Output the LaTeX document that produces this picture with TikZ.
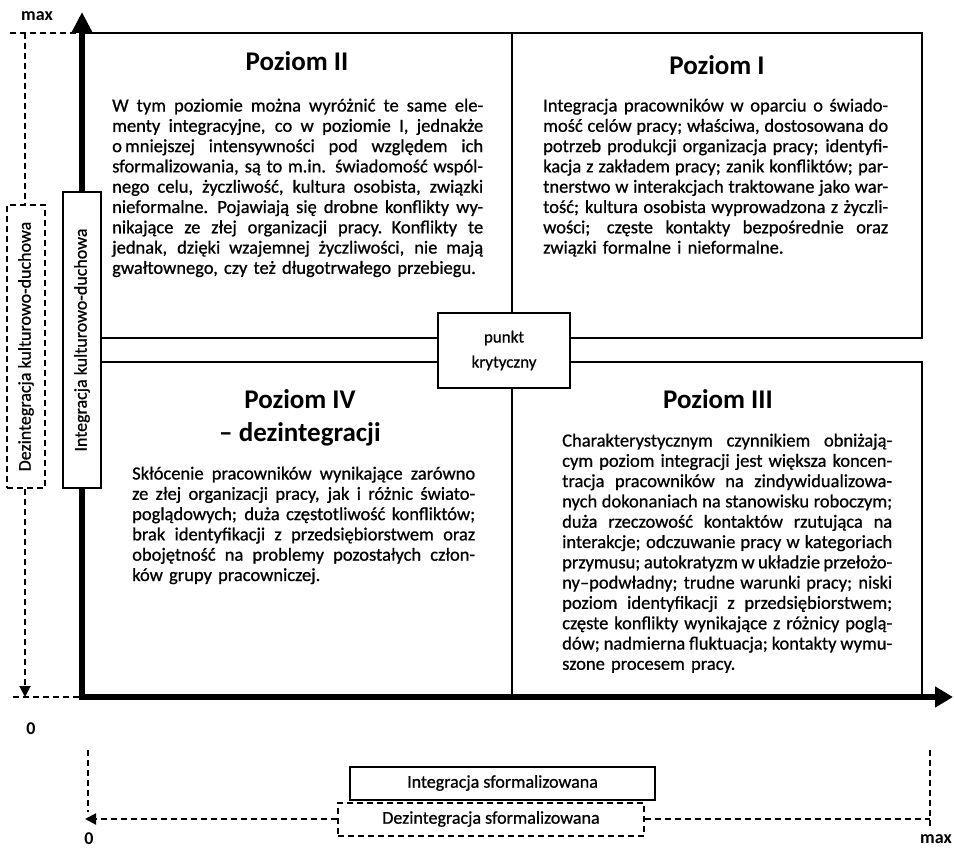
\documentclass[tikz,border=0pt]{standalone}
\usepackage{fontspec}
\setmainfont{Carlito}
\newfontfamily\bodyfont[FakeBold=0.8]{Carlito}
\usetikzlibrary{arrows.meta}
\newcommand{\jl}[2]{\hbox to #1{\spaceskip=0.226em plus 1.5em minus 0.06em\relax #2}}
\begin{document}
\begin{tikzpicture}[x=1pt,y=-1pt,
  frame/.style={draw, line width=2pt},
  axisline/.style={line width=6pt},
  dline/.style={line width=2pt, dash pattern=on 6pt off 4pt},
  body/.style={anchor=base west, inner sep=0pt, align=left, font=\bodyfont\fontsize{18.5}{20.3}\selectfont},
  ttl/.style={anchor=base, inner sep=0pt, font=\bfseries\fontsize{27}{32}\selectfont},
  lbl/.style={inner sep=0pt, font=\bodyfont\fontsize{18}{22}\selectfont},
  blbl/.style={inner sep=0pt, font=\bfseries\fontsize{18}{22}\selectfont}]
\useasboundingbox (0,0) rectangle (954,851);

% quadrants
\draw[frame] (82,33) rectangle (512,338);
\draw[frame] (512,33) rectangle (922,338);
\draw[frame] (82,362) rectangle (512,697);
\draw[frame] (512,362) rectangle (922,697);

% axes
\coordinate (O) at (82,697);
\coordinate (ytop) at (82,12);
\coordinate (xend) at (953,697);
\draw[axisline,-{Triangle[length=21pt,width=20pt]}] (O) -- (ytop);
\draw[axisline,-{Triangle[length=18pt,width=20pt]}] ([xshift=-3pt]O) -- (xend);

% vertical side boxes
\node[frame, fill=white, minimum width=38pt, minimum height=296pt, inner sep=0pt] (ik) at (82,340) {};
\node[lbl, rotate=90] (ikt) at (ik.center) {Integracja kulturowo-duchowa};
\node[dline, draw, minimum width=38pt, minimum height=283pt, inner sep=0pt] (dk) at (26,346.5) {};
\node[lbl, rotate=90] (dkt) at (dk.center) {Dezintegracja kulturowo-duchowa};

% critical point
\node[frame, fill=white, minimum width=132pt, minimum height=75pt, inner sep=0pt, align=center,
      font=\bodyfont\fontsize{17}{25}\selectfont] (pk) at (504,350.5) {punkt\\krytyczny};

% left dashed guides
\coordinate (mt1) at (10,33);
\coordinate (mt2) at (82,33);
\coordinate (zl1) at (13,697);
\coordinate (zl2) at (82,697);
\coordinate (vtop) at (25,33);
\coordinate (vbot) at (25,697);
\draw[dline] (mt1) -- (mt2);
\draw[dline] (zl1) -- (zl2);
\draw[dline] (vtop) -- (dk.north -| vtop);
\draw[dline,-{Triangle[length=11pt,width=11pt]}] (dk.south -| vtop) -- (vbot);

\node[blbl] (maxy) at (37,16) {max};
\node[blbl] (zeroy) at (31,729) {0};

% bottom
\node[frame, minimum width=305pt, minimum height=33pt, inner sep=0pt, lbl] (isf) at (502.5,783) {Integracja sformalizowana};
\node[dline, draw, minimum width=306pt, minimum height=33pt, inner sep=0pt, lbl] (dsf) at (491,819) {Dezintegracja sformalizowana};
\coordinate (al) at (85,819);
\coordinate (ar) at (930,819);
\coordinate (lv1) at (88,750);
\coordinate (lv2) at (88,812);
\coordinate (rv1) at (930,750);
\coordinate (rv2) at (930,829);
\draw[dline,-{Triangle[length=11pt,width=11pt]}] (dsf.west) -- (al);
\draw[dline] (dsf.east) -- (ar);
\draw[dline] (lv1) -- (lv2);
\draw[dline] (rv1) -- (rv2);
\node[blbl] (zerox) at (89,839) {0};
\node[blbl] (maxx) at (936,839) {max};

% titles
\node[ttl] (t2) at (297,71) {Poziom II};
\node[ttl] (t1) at (717,75) {Poziom I};
\node[ttl] (t4) at (300,408.5) {Poziom IV};
\node[ttl] (t4b) at (300,441) {– dezintegracji};
\node[ttl] (t3) at (718,408.5) {Poziom III};

% bodies
\node[body, text width=371pt] (b2) at (112,111.5) {%
\jl{371pt}{W tym poziomie można wyróżnić te same ele-}
\jl{371pt}{menty integracyjne, co w poziomie I, jednakże}
\jl{371pt}{o\,mniejszej intensywności pod względem ich}
\jl{371pt}{sformalizowania, są to m.in. świadomość wspól-}
\jl{371pt}{nego celu, życzliwość, kultura osobista, związki}
\jl{371pt}{nieformalne. Pojawiają się drobne konflikty wy-}
\jl{371pt}{nikające ze złej organizacji pracy. Konflikty te}
\jl{371pt}{jednak, dzięki wzajemnej życzliwości, nie mają}
\hbox{gwałtownego, czy też długotrwałego przebiegu.}};

\node[body, text width=345pt] (b1) at (543,111.5) {%
\jl{345pt}{Integracja pracowników w oparciu o świado-}
\jl{345pt}{mość celów pracy; właściwa, dostosowana do}
\jl{345pt}{potrzeb produkcji organizacja pracy; identyfi-}
\jl{345pt}{kacja z zakładem pracy; zanik konfliktów; par-}
\jl{345pt}{tnerstwo w interakcjach traktowane jako war-}
\jl{345pt}{tość; kultura osobista wyprowadzona z życzli-}
\jl{345pt}{wości; częste kontakty bezpośrednie oraz}
\hbox{związki formalne i nieformalne.}};

\node[body, text width=343pt] (b4) at (132,479.5) {%
\jl{343pt}{Skłócenie pracowników wynikające zarówno}
\jl{343pt}{ze złej organizacji pracy, jak i różnic świato-}
\jl{343pt}{poglądowych; duża częstotliwość konfliktów;}
\jl{343pt}{brak identyfikacji z przedsiębiorstwem oraz}
\jl{343pt}{obojętność na problemy pozostałych człon-}
\hbox{ków grupy pracowniczej.}};

\node[body, text width=330pt] (b3) at (562,446.5) {%
\jl{330pt}{Charakterystycznym czynnikiem obniżają-}
\jl{330pt}{cym poziom integracji jest większa koncen-}
\jl{330pt}{tracja pracowników na zindywidualizowa-}
\jl{330pt}{nych dokonaniach na stanowisku roboczym;}
\jl{330pt}{duża rzeczowość kontaktów rzutująca na}
\jl{330pt}{interakcje; odczuwanie pracy w kategoriach}
\jl{330pt}{przymusu; autokratyzm w układzie przełożo-}
\jl{330pt}{ny–podwładny; trudne warunki pracy; niski}
\jl{330pt}{poziom identyfikacji z przedsiębiorstwem;}
\jl{330pt}{częste konflikty wynikające z różnicy poglą-}
\jl{330pt}{dów; nadmierna fluktuacja; kontakty wymu-}
\hbox{szone procesem pracy.}};
\end{tikzpicture}
\end{document}
